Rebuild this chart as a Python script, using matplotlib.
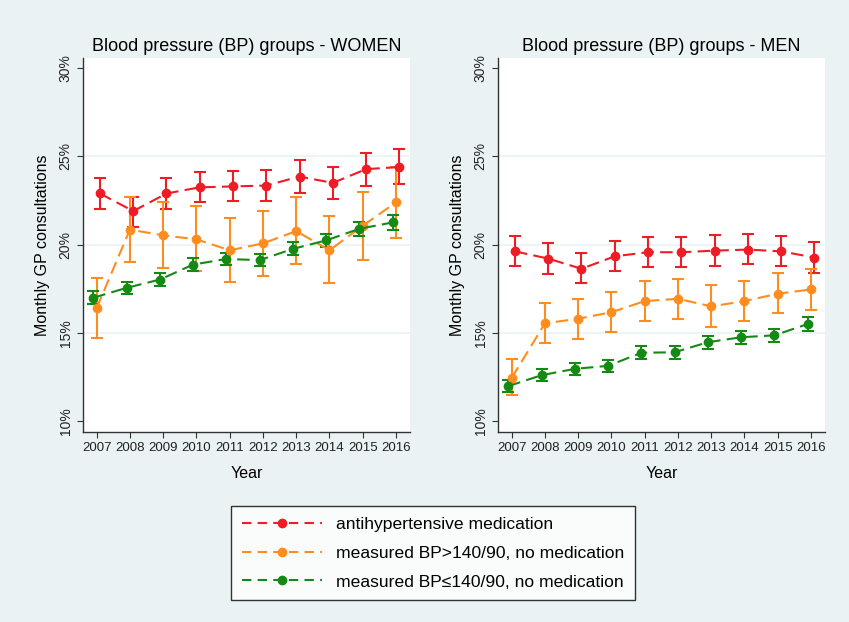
import matplotlib.pyplot as plt
from matplotlib.lines import Line2D

plt.rcParams['font.family'] = ['Liberation Sans', 'DejaVu Sans']

years = [2007, 2008, 2009, 2010, 2011, 2012, 2013, 2014, 2015, 2016]

# women
w_med = [22.9, 21.9, 22.9, 23.25, 23.3, 23.35, 23.86, 23.5, 24.28, 24.4]
w_med_lo = [22.0, 21.0, 22.0, 22.4, 22.45, 22.45, 22.9, 22.6, 23.3, 23.45]
w_med_hi = [23.8, 22.7, 23.8, 24.1, 24.2, 24.25, 24.8, 24.4, 25.2, 25.4]

w_high = [16.4, 20.85, 20.53, 20.3, 19.68, 20.07, 20.77, 19.68, 21.07, 22.4]
w_high_lo = [14.73, 19.0, 18.7, 18.5, 17.9, 18.2, 18.9, 17.8, 19.15, 20.4]
w_high_hi = [18.1, 22.7, 22.4, 22.2, 21.5, 21.9, 22.7, 21.6, 23.0, 24.4]

w_norm = [16.99, 17.55, 18.02, 18.87, 19.19, 19.12, 19.76, 20.24, 20.9, 21.26]
w_norm_err = [0.36, 0.35, 0.35, 0.35, 0.35, 0.35, 0.37, 0.38, 0.4, 0.42]

# men
m_med = [19.62, 19.21, 18.63, 19.34, 19.57, 19.57, 19.66, 19.72, 19.62, 19.27]
m_med_lo = [18.78, 18.36, 17.8, 18.5, 18.72, 18.72, 18.8, 18.88, 18.78, 18.42]
m_med_hi = [20.5, 20.1, 19.5, 20.2, 20.42, 20.42, 20.55, 20.6, 20.5, 20.15]

m_high = [12.44, 15.54, 15.8, 16.17, 16.8, 16.93, 16.5, 16.8, 17.22, 17.46]
m_high_lo = [11.46, 14.4, 14.67, 15.04, 15.66, 15.8, 15.33, 15.66, 16.1, 16.3]
m_high_hi = [13.5, 16.7, 16.93, 17.3, 17.92, 18.05, 17.7, 17.92, 18.4, 18.63]

m_norm = [11.98, 12.6, 12.96, 13.13, 13.87, 13.9, 14.47, 14.75, 14.86, 15.5]
m_norm_err = [0.36, 0.35, 0.35, 0.35, 0.36, 0.36, 0.37, 0.37, 0.38, 0.38]

labels = ["antihypertensive medication",
          "measured BP>140/90, no medication",
          "measured BP\u2264140/90, no medication"]
colors = ["#EE1C25", "#FF8C1F", "#148A14"]
offsets = [0.1, 0.0, -0.1]

bg = "#EAF2F3"
fig = plt.figure(figsize=(8.49, 6.22), dpi=100, facecolor=bg)


def panel(ax, series, title):
    for (y, lo, hi), c, off in zip(series, colors, offsets):
        x = [yr + off for yr in years]
        yerr = [[v - l for v, l in zip(y, lo)], [h - v for v, h in zip(y, hi)]]
        ax.errorbar(x, y, yerr=yerr, color=c, lw=1.5, dashes=(6, 3),
                    marker='o', ms=6, capsize=4.5, elinewidth=1.5,
                    capthick=1.5, zorder=3)
    ax.set_xlim(2006.59, 2016.42)
    ax.set_ylim(9.38, 30.58)
    ax.set_yticks([10, 15, 20, 25, 30])
    ax.set_yticklabels(["10%", "15%", "20%", "25%", "30%"], rotation=90,
                       va='center', fontsize=10)
    ax.set_xticks(years)
    ax.set_xticklabels([str(y) for y in years], fontsize=9.5)
    for g in [15, 20, 25]:
        ax.axhline(g, color=bg, lw=1.2, zorder=1)
    for s in ['top', 'right']:
        ax.spines[s].set_visible(False)
    for s in ['left', 'bottom']:
        ax.spines[s].set_color('#333333')
        ax.spines[s].set_linewidth(1.0)
    ax.tick_params(colors='#333333', length=4, labelcolor='#222222')
    ax.set_title(title, fontsize=13, pad=5)
    ax.set_xlabel("Year", fontsize=11.5, labelpad=8)
    ax.set_ylabel("Monthly GP consultations", fontsize=11.5, labelpad=6)


ax1 = fig.add_axes([83 / 849, 1 - 432 / 622, 327 / 849, 374 / 622])
panel(ax1, [(w_med, w_med_lo, w_med_hi),
            (w_high, w_high_lo, w_high_hi),
            (w_norm, [v - e for v, e in zip(w_norm, w_norm_err)],
             [v + e for v, e in zip(w_norm, w_norm_err)])],
      "Blood pressure (BP) groups - WOMEN")

ax2 = fig.add_axes([498 / 849, 1 - 432 / 622, 327 / 849, 374 / 622])
panel(ax2, [(m_med, m_med_lo, m_med_hi),
            (m_high, m_high_lo, m_high_hi),
            (m_norm, [v - e for v, e in zip(m_norm, m_norm_err)],
             [v + e for v, e in zip(m_norm, m_norm_err)])],
      "Blood pressure (BP) groups - MEN")

handles = [Line2D([], [], color=c, lw=1.5, dashes=(4.5, 3), marker='o', ms=6)
           for c in colors]
leg = fig.legend(handles, labels, loc='center',
                 bbox_to_anchor=(433 / 849, 1 - 553 / 622),
                 fontsize=12.6, frameon=True, fancybox=False,
                 edgecolor='black', handlelength=4.6, labelspacing=0.78,
                 borderpad=0.6, borderaxespad=0, handletextpad=0.8)
leg.get_frame().set_linewidth(1.0)

fig.savefig("out.png", dpi=100, facecolor=bg)
